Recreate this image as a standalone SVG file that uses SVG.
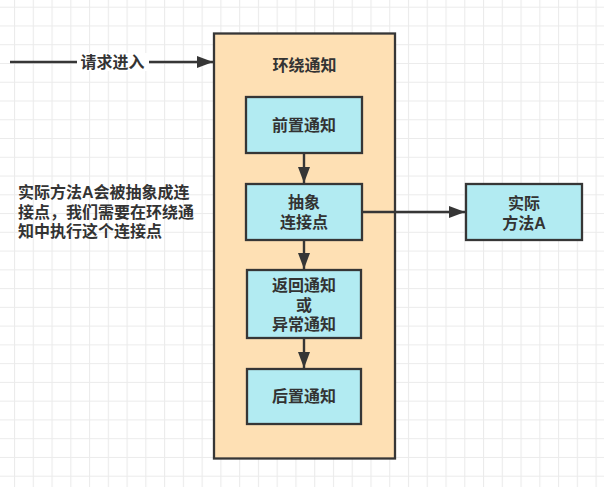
<svg xmlns="http://www.w3.org/2000/svg" width="604" height="487" viewBox="0 0 604 487">
<style>
.t{font-family:"Liberation Sans","Noto Sans CJK SC",sans-serif;font-weight:bold;font-size:16px;fill:#333333;text-anchor:middle;dominant-baseline:central}
.tl{font-family:"Liberation Sans","Noto Sans CJK SC",sans-serif;font-weight:bold;font-size:16px;fill:#333333;dominant-baseline:central}
.box{fill:#b2ebf2;stroke:#363636;stroke-width:2.3}
.cont{fill:#fee0b4;stroke:#363636;stroke-width:2.3}
.edge{fill:none;stroke:#363636;stroke-width:2.4}
</style>
<defs>
<pattern id="grid" patternUnits="userSpaceOnUse" x="14" y="6.7" width="18.76" height="18.76">
<path d="M0.5 0V18.76M0 0.5H18.76" fill="none" stroke="#ebebeb" stroke-width="1.2"/>
</pattern>
<marker id="arr" viewBox="0 0 16 12" refX="16" refY="6" markerWidth="16" markerHeight="12" markerUnits="userSpaceOnUse" orient="auto">
<path d="M0 0L16 6L0 12z" fill="#363636"/>
</marker>
</defs>
<rect width="604" height="487" fill="#ffffff"/>
<rect width="604" height="487" fill="url(#grid)"/>
<g id="container">
<rect class="cont" x="214" y="33.5" width="181" height="425"/>
<text class="t" x="304.5" y="65">环绕通知</text>
</g>
<g id="connectors">
<path class="edge" d="M10 62H213" marker-end="url(#arr)"/>
<path class="edge" d="M304 153V183" marker-end="url(#arr)"/>
<path class="edge" d="M304 240V269" marker-end="url(#arr)"/>
<path class="edge" d="M304 338V368" marker-end="url(#arr)"/>
<path class="edge" d="M362 212H465" marker-end="url(#arr)"/>
<rect x="77" y="53" width="72" height="18" fill="#ffffff"/>
<text class="t" x="112.5" y="62.5">请求进入</text>
</g>
<g id="before">
<rect class="box" x="246" y="97" width="116" height="56"/>
<text class="t" x="304" y="125">前置通知</text>
</g>
<g id="joinpoint">
<rect class="box" x="246" y="184" width="116" height="56"/>
<text class="t" x="304" y="202"><tspan x="304">抽象</tspan><tspan x="304" dy="19.5">连接点</tspan></text>
</g>
<g id="returning">
<rect class="box" x="247" y="270" width="114" height="68"/>
<text class="t" x="304" y="285"><tspan x="304">返回通知</tspan><tspan x="304" dy="19.5">或</tspan><tspan x="304" dy="19.5">异常通知</tspan></text>
</g>
<g id="after">
<rect class="box" x="247" y="369" width="114" height="55"/>
<text class="t" x="304" y="396.5">后置通知</text>
</g>
<g id="method">
<rect class="box" x="466" y="184" width="116" height="56"/>
<text class="t" x="524" y="203"><tspan x="524">实际</tspan><tspan x="524" dy="19.5">方法A</tspan></text>
</g>
<g id="note">
<text class="tl" x="18" y="192"><tspan x="18">实际方法A会被抽象成连</tspan><tspan x="18" dy="19.7">接点，我们需要在环绕通</tspan><tspan x="18" dy="19.7">知中执行这个连接点</tspan></text>
</g>
</svg>
